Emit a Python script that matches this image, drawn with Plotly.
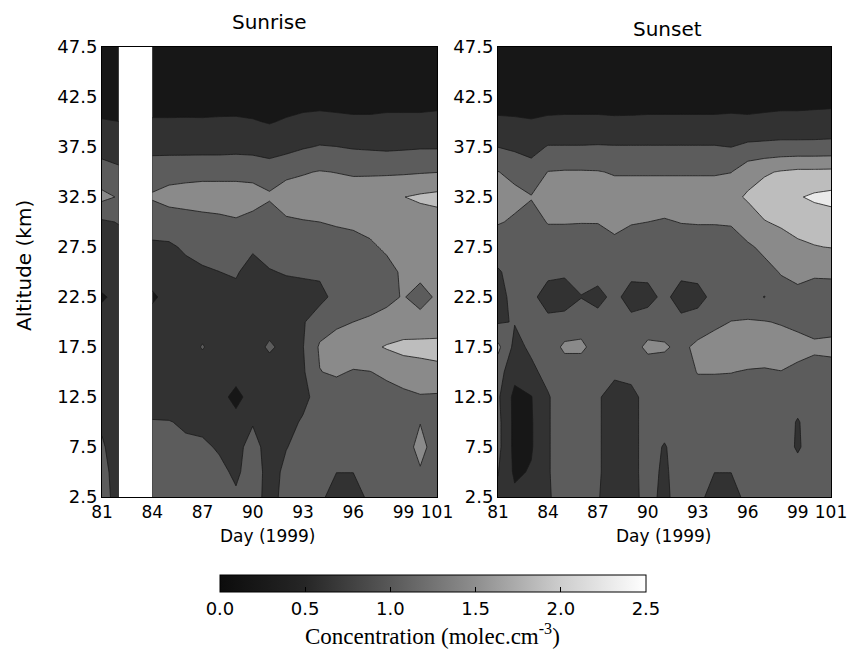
import plotly.graph_objects as go

# ---------------- data ----------------
altitudes = [47.5, 45.0, 42.5, 40.0, 37.5, 35.0, 32.5, 30.0, 27.5, 25.0,
             22.5, 20.0, 17.5, 15.0, 12.5, 10.0, 7.5, 5.0, 2.5]

sunrise_days_early = [81, 82]
sunrise_days = [84, 85, 86, 87, 88, 89, 90, 91, 92, 93, 94, 95, 96, 97, 98, 99, 100, 101]
sunset_days = [81, 82, 83, 84, 85, 86, 87, 88, 89, 90, 91, 92, 93, 94, 95, 96, 97, 98, 99, 100, 101]

# rows follow `altitudes` (top to bottom)
sunrise_early = [
    [0.16, 0.16], [0.20, 0.20], [0.26, 0.26], [0.44, 0.42], [0.68, 0.66],
    [1.00, 0.90], [1.35, 1.22], [0.78, 0.85], [0.70, 0.70], [0.60, 0.58],
    [0.38, 0.50], [0.55, 0.60], [0.60, 0.60], [0.58, 0.55], [0.50, 0.42],
    [0.75, 0.55], [0.90, 0.55], [1.00, 0.60], [1.05, 0.62],
]

sunrise = [
    [0.16, 0.16, 0.17, 0.16, 0.16, 0.17, 0.16, 0.16, 0.17, 0.17, 0.16, 0.16, 0.17, 0.16, 0.16, 0.17, 0.16, 0.16],
    [0.20, 0.19, 0.20, 0.21, 0.20, 0.20, 0.19, 0.20, 0.21, 0.20, 0.20, 0.19, 0.20, 0.21, 0.20, 0.20, 0.19, 0.20],
    [0.26, 0.26, 0.27, 0.26, 0.26, 0.27, 0.26, 0.25, 0.27, 0.28, 0.29, 0.28, 0.27, 0.27, 0.28, 0.28, 0.28, 0.29],
    [0.45, 0.45, 0.45, 0.45, 0.46, 0.46, 0.44, 0.40, 0.45, 0.50, 0.52, 0.50, 0.48, 0.48, 0.50, 0.50, 0.50, 0.52],
    [0.68, 0.68, 0.68, 0.68, 0.68, 0.70, 0.68, 0.62, 0.70, 0.80, 0.86, 0.84, 0.80, 0.78, 0.76, 0.78, 0.80, 0.80],
    [1.12, 1.14, 1.15, 1.16, 1.16, 1.16, 1.15, 1.08, 1.17, 1.22, 1.27, 1.24, 1.20, 1.20, 1.20, 1.20, 1.22, 1.24],
    [1.28, 1.35, 1.38, 1.40, 1.40, 1.40, 1.38, 1.30, 1.42, 1.45, 1.48, 1.48, 1.48, 1.50, 1.55, 1.66, 1.73, 1.78],
    [1.05, 1.10, 1.12, 1.15, 1.18, 1.22, 1.15, 1.00, 1.20, 1.23, 1.25, 1.28, 1.30, 1.35, 1.40, 1.42, 1.48, 1.50],
    [0.75, 0.76, 0.90, 0.98, 1.00, 1.02, 0.90, 0.98, 1.05, 1.08, 1.10, 1.12, 1.15, 1.20, 1.30, 1.38, 1.40, 1.42],
    [0.62, 0.62, 0.70, 0.78, 0.83, 0.88, 0.65, 0.81, 0.86, 0.88, 0.90, 1.00, 1.05, 1.10, 1.15, 1.30, 1.35, 1.38],
    [0.35, 0.55, 0.55, 0.60, 0.62, 0.70, 0.60, 0.62, 0.68, 0.70, 0.72, 0.95, 1.00, 1.10, 1.18, 1.27, 1.12, 1.30],
    [0.60, 0.62, 0.62, 0.65, 0.62, 0.60, 0.62, 0.65, 0.70, 0.80, 1.05, 1.18, 1.25, 1.30, 1.35, 1.40, 1.38, 1.38],
    [0.60, 0.62, 0.65, 0.86, 0.65, 0.62, 0.65, 0.90, 0.70, 0.82, 1.30, 1.42, 1.50, 1.58, 1.70, 1.78, 1.80, 1.82],
    [0.60, 0.62, 0.62, 0.62, 0.60, 0.58, 0.62, 0.62, 0.65, 0.78, 1.24, 1.30, 1.22, 1.24, 1.33, 1.45, 1.50, 1.55],
    [0.60, 0.60, 0.62, 0.60, 0.55, 0.30, 0.58, 0.62, 0.65, 0.72, 1.00, 1.05, 1.10, 1.12, 1.10, 1.15, 1.22, 1.20],
    [0.86, 0.85, 0.78, 0.70, 0.65, 0.55, 0.80, 0.65, 0.70, 0.88, 1.05, 1.05, 1.08, 1.10, 1.10, 1.12, 1.24, 1.12],
    [1.00, 0.98, 0.90, 0.92, 0.78, 0.70, 1.00, 0.65, 0.82, 0.95, 1.05, 1.02, 1.00, 1.02, 1.05, 1.10, 1.35, 1.10],
    [1.00, 1.00, 1.00, 1.00, 0.95, 0.75, 1.05, 0.68, 0.92, 1.00, 1.00, 0.84, 0.84, 1.00, 1.02, 1.05, 1.22, 1.05],
    [1.02, 1.02, 1.02, 1.00, 1.00, 0.90, 1.05, 0.65, 1.00, 1.02, 0.95, 0.60, 0.60, 0.95, 1.02, 1.05, 1.10, 1.05],
]

sunset = [
    [0.16, 0.16, 0.17, 0.16, 0.16, 0.17, 0.16, 0.16, 0.17, 0.16, 0.16, 0.17, 0.16, 0.16, 0.17, 0.16, 0.16, 0.17, 0.16, 0.16, 0.17],
    [0.20, 0.20, 0.19, 0.20, 0.21, 0.20, 0.20, 0.19, 0.20, 0.21, 0.20, 0.20, 0.19, 0.20, 0.21, 0.20, 0.20, 0.19, 0.20, 0.21, 0.20],
    [0.27, 0.26, 0.25, 0.27, 0.27, 0.27, 0.27, 0.26, 0.27, 0.27, 0.27, 0.27, 0.27, 0.27, 0.28, 0.27, 0.28, 0.29, 0.29, 0.30, 0.30],
    [0.47, 0.46, 0.44, 0.47, 0.48, 0.48, 0.48, 0.47, 0.47, 0.48, 0.48, 0.48, 0.48, 0.48, 0.49, 0.48, 0.50, 0.52, 0.52, 0.53, 0.55],
    [0.83, 0.76, 0.70, 0.86, 0.86, 0.86, 0.87, 0.86, 0.86, 0.86, 0.86, 0.86, 0.86, 0.86, 0.83, 0.92, 0.94, 0.96, 0.96, 0.96, 0.97],
    [1.26, 1.15, 1.00, 1.26, 1.28, 1.28, 1.27, 1.22, 1.22, 1.22, 1.22, 1.22, 1.22, 1.22, 1.24, 1.50, 1.62, 1.70, 1.75, 1.75, 1.76],
    [1.40, 1.35, 1.27, 1.40, 1.42, 1.42, 1.42, 1.42, 1.42, 1.42, 1.42, 1.42, 1.42, 1.42, 1.55, 1.72, 1.85, 1.95, 2.05, 2.15, 2.20],
    [1.28, 1.20, 1.10, 1.27, 1.27, 1.26, 1.26, 1.30, 1.27, 1.25, 1.22, 1.26, 1.27, 1.27, 1.28, 1.45, 1.65, 1.72, 1.80, 1.85, 1.90],
    [1.00, 1.05, 1.05, 1.05, 1.05, 1.08, 1.10, 1.20, 1.10, 1.08, 1.05, 1.08, 1.08, 1.08, 1.10, 1.20, 1.32, 1.50, 1.60, 1.65, 1.68],
    [0.80, 0.95, 1.00, 0.95, 0.90, 0.98, 1.00, 1.00, 0.95, 0.95, 1.00, 0.95, 0.95, 1.00, 1.02, 1.05, 1.15, 1.27, 1.40, 1.30, 1.30],
    [0.70, 0.95, 0.95, 0.62, 0.62, 0.82, 0.70, 0.95, 0.65, 0.68, 0.95, 0.62, 0.70, 0.95, 1.00, 1.00, 0.82, 1.12, 1.10, 1.10, 1.12],
    [0.80, 0.85, 1.00, 0.95, 1.00, 1.10, 1.00, 0.98, 0.95, 1.05, 1.05, 0.95, 1.00, 1.15, 1.26, 1.28, 1.27, 1.22, 1.15, 1.10, 1.10],
    [1.35, 0.72, 0.90, 1.05, 1.32, 1.32, 1.10, 1.05, 1.10, 1.33, 1.30, 1.15, 1.35, 1.45, 1.48, 1.50, 1.50, 1.45, 1.40, 1.32, 1.35],
    [1.00, 0.55, 0.75, 0.95, 1.05, 1.05, 1.02, 0.92, 0.97, 1.05, 1.05, 1.05, 1.27, 1.27, 1.26, 1.22, 1.20, 1.24, 1.15, 1.10, 1.10],
    [0.90, 0.30, 0.40, 0.80, 1.05, 1.05, 0.88, 0.65, 0.70, 1.00, 1.02, 1.05, 1.05, 1.05, 1.05, 1.05, 1.05, 1.05, 1.02, 1.05, 1.05],
    [0.95, 0.30, 0.38, 0.80, 1.05, 1.05, 0.88, 0.65, 0.70, 1.00, 1.00, 1.05, 1.05, 1.05, 1.05, 1.05, 1.05, 1.05, 0.80, 1.05, 1.05],
    [0.95, 0.30, 0.38, 0.80, 1.05, 1.05, 0.88, 0.65, 0.70, 1.00, 0.80, 1.05, 1.05, 1.05, 1.05, 1.05, 1.05, 1.05, 0.78, 1.05, 1.05],
    [0.85, 0.35, 0.45, 0.80, 1.05, 1.05, 0.88, 0.65, 0.70, 1.00, 0.75, 1.08, 1.05, 0.84, 0.84, 1.05, 1.05, 1.05, 1.00, 1.05, 1.05],
    [0.75, 0.50, 0.60, 0.78, 1.05, 1.05, 0.86, 0.62, 0.68, 1.00, 0.70, 1.10, 1.00, 0.60, 0.60, 1.00, 1.05, 1.05, 1.05, 1.05, 1.05],
]

x_ticks = [81, 84, 87, 90, 93, 96, 99, 101]
y_ticks = [2.5, 7.5, 12.5, 17.5, 22.5, 27.5, 32.5, 37.5, 42.5, 47.5]
cbar_ticks = [0.0, 0.5, 1.0, 1.5, 2.0, 2.5]
z_min, z_max, n_bands = 0.0, 2.5, 6

# ---------------- style ----------------
gray_scale = [
    [0.0, "rgb(12,12,12)"],
    [0.2, "rgb(38,38,38)"],
    [0.4, "rgb(88,88,88)"],
    [0.6, "rgb(142,142,142)"],
    [0.8, "rgb(205,205,205)"],
    [1.0, "rgb(255,255,255)"],
]
SANS = "DejaVu Sans, Liberation Sans, Arial, sans-serif"
SERIF = "Liberation Serif, Times New Roman, serif"

band = (z_max - z_min) / n_bands


def contour(days, rows, xa, ya):
    ys = altitudes[::-1]
    zs = rows[::-1]
    return go.Contour(
        x=days, y=ys, z=zs, xaxis=xa, yaxis=ya,
        colorscale=gray_scale, zmin=z_min, zmax=z_max, showscale=False,
        autocontour=False,
        contours=dict(start=z_min, end=z_max, size=band, coloring="fill", showlines=True),
        line=dict(color="rgb(25,25,25)", width=0.8, smoothing=0),
        hoverinfo="skip",
    )


fig = go.Figure()
fig.add_trace(contour(sunrise_days_early, sunrise_early, "x", "y"))
fig.add_trace(contour(sunrise_days, sunrise, "x", "y"))
fig.add_trace(contour(sunset_days, sunset, "x2", "y2"))

# continuous colour bar
fig.add_trace(go.Scatter(
    x=[None], y=[None], mode="markers", xaxis="x", yaxis="y", showlegend=False,
    hoverinfo="skip",
    marker=dict(color=[z_min], colorscale=gray_scale, cmin=z_min, cmax=z_max, showscale=True,
                colorbar=dict(orientation="h", x=0.454, xanchor="center", y=-0.1733, yanchor="top",
                              len=0.5844, lenmode="fraction", thickness=17, xpad=0, ypad=0,
                              outlinewidth=1, outlinecolor="black",
                              tickvals=cbar_ticks, ticktext=[f"{v:.1f}" for v in cbar_ticks],
                              ticks="inside", ticklen=5, tickcolor="black", tickwidth=1,
                              tickfont=dict(family=SANS, size=18, color="black"))),
))

tick_font_x = dict(family=SANS, size=17, color="black")
tick_font_y = dict(family=SANS, size=18, color="black")
axis_common = dict(showgrid=False, zeroline=False, showline=True, mirror=True,
                   linecolor="black", linewidth=1, ticks="", ticklabeloverflow="allow")

fig.update_layout(
    width=847, height=651,
    margin=dict(l=102, r=16, t=47, b=154, autoexpand=False),
    paper_bgcolor="white", plot_bgcolor="white",
    font=dict(family=SANS, color="black"),
    showlegend=False,
    xaxis=dict(domain=[0, 0.4595], range=[81, 101], tickvals=x_ticks, anchor="y",
               tickfont=tick_font_x, **axis_common),
    yaxis=dict(domain=[0, 1], range=[2.5, 47.5], tickvals=y_ticks, ticktext=[f"{v:.1f}" for v in y_ticks],
               anchor="x", tickfont=tick_font_y, **axis_common),
    xaxis2=dict(domain=[0.5432, 1], range=[81, 101], tickvals=x_ticks, anchor="y2",
                tickfont=tick_font_x, **axis_common),
    yaxis2=dict(domain=[0, 1], range=[2.5, 47.5], tickvals=y_ticks, ticktext=[f"{v:.1f}" for v in y_ticks],
                anchor="x2", tickfont=tick_font_y, **axis_common),
    annotations=[
        dict(text="Sunrise", x=0.2298, y=1.0556, xref="paper", yref="paper", showarrow=False,
             xanchor="center", yanchor="middle", font=dict(family=SANS, size=20)),
        dict(text="Sunset", x=0.776, y=1.04, xref="paper", yref="paper", showarrow=False,
             xanchor="center", yanchor="middle", font=dict(family=SANS, size=20)),
        dict(text="Altitude (km)", x=-0.107, y=0.5156, xref="paper", yref="paper", showarrow=False,
             textangle=-90, xanchor="center", yanchor="middle", font=dict(family=SANS, size=20)),
        dict(text="Day (1999)", x=0.2278, y=-0.0867, xref="paper", yref="paper", showarrow=False,
             xanchor="center", yanchor="middle", font=dict(family=SANS, size=17)),
        dict(text="Day (1999)", x=0.7709, y=-0.0867, xref="paper", yref="paper", showarrow=False,
             xanchor="center", yanchor="middle", font=dict(family=SANS, size=17)),
        dict(text="Concentration (molec.cm<sup>-3</sup>)", x=0.454, y=-0.305, xref="paper", yref="paper",
             showarrow=False, xanchor="center", yanchor="middle", font=dict(family=SERIF, size=23)),
    ],
)

# remove the browser's default 8px page margin so the 847x651 figure fills the window exactly
fig.write_html("out.html", config={"displayModeBar": False},
               post_script="document.body.style.margin='0px';")
